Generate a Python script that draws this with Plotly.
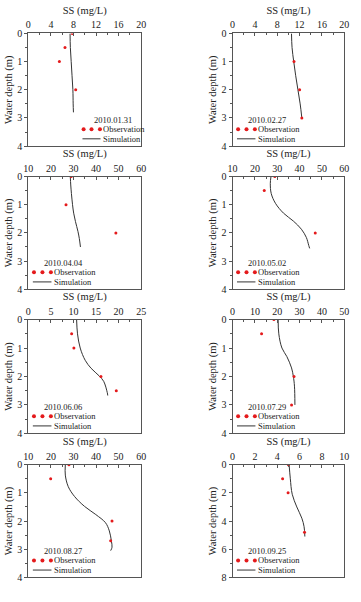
import plotly.graph_objects as go

# ---------------- data ----------------
dates = ["2010.01.31", "2010.02.27", "2010.04.04", "2010.05.02",
         "2010.06.06", "2010.07.29", "2010.08.27", "2010.09.25"]

x_ranges = [[0, 20], [0, 20], [10, 60], [10, 60], [0, 25], [0, 50], [10, 60], [0, 10]]
x_dticks = [4, 4, 10, 10, 5, 10, 10, 2]
y_ranges = [[0, 4], [0, 4], [0, 4], [0, 4], [0, 4], [0, 4], [0, 4], [0, 8]]
y_dticks = [1, 1, 1, 1, 1, 1, 1, 2]

obs_x = [
    [7.8, 6.5, 5.5, 8.4],
    [11.0, 12.0, 12.4],
    [29.0, 26.7, 48.8],
    [28.9, 24.2, 47.0],
    [9.6, 10.1, 16.1, 19.5],
    [18.5, 13.0, 27.5, 26.4],
    [28.0, 19.9, 47.1, 46.5],
    [5.0, 4.48, 4.97, 6.44],
]
obs_y = [
    [0, 0.5, 1, 2],
    [1, 2, 3],
    [0, 1, 2],
    [0, 0.5, 2],
    [0.5, 1, 2, 2.5],
    [0, 0.5, 2, 3],
    [0, 0.5, 2, 2.7],
    [0, 1, 2, 4.8],
]

sim_x = [
    [7.4, 7.45, 7.6, 7.75, 7.9, 7.95, 8.0],
    [10.55, 10.65, 10.95, 11.3, 11.7, 12.1, 12.4],
    [28.6, 28.8, 29.1, 29.6, 30.1, 30.9, 32.0, 32.6, 33.1],
    [27.2, 26.9, 27.3, 29.2, 32.8, 37.2, 40.8, 43.0, 44.1, 44.5],
    [10.7, 10.9, 11.5, 12.6, 13.9, 15.7, 16.7, 17.5, 17.6],
    [20.4, 20.7, 22.1, 24.3, 26.4, 27.2, 27.7, 27.9],
    [26.4, 26.4, 27.7, 30.5, 34.9, 39.9, 44.2, 45.9, 46.8, 47.1, 46.5],
    [5.06, 5.17, 5.34, 5.75, 6.2, 6.4, 6.47],
]
sim_y = [
    [0, 0.5, 1.0, 1.5, 2.0, 2.5, 2.8],
    [0, 0.5, 1, 1.5, 2, 2.5, 3],
    [0, 0.3, 0.6, 1.0, 1.3, 1.6, 1.95, 2.2, 2.5],
    [0, 0.25, 0.6, 0.95, 1.3, 1.58, 1.87, 2.16, 2.45, 2.55],
    [0, 0.5, 1.0, 1.43, 1.71, 1.98, 2.17, 2.57, 2.67],
    [0, 0.5, 1.0, 1.3, 1.7, 2.0, 2.34, 3.0],
    [0, 0.37, 0.78, 1.13, 1.48, 1.77, 2.06, 2.35, 2.7, 2.93, 3.05],
    [0, 1, 2.1, 3.0, 3.8, 4.4, 5.1],
]

x_title = "SS (mg/L)"
y_title = "Water depth (m)"
obs_label = "Observation"
sim_label = "Simulation"

# ---------------- layout ----------------
W, H = 361, 602
col_px = [(24, 140), (234, 349)]
row_px = [(28, 143), (174, 289), (320, 436), (468, 583)]

FONT = "Liberation Serif, Times New Roman, serif"
AX_COLOR = "#555555"
TXT = "#222222"

fig = go.Figure()
layout = dict(
    width=W, height=H,
    margin=dict(l=0, r=0, t=0, b=0),
    paper_bgcolor="white", plot_bgcolor="white",
    showlegend=False,
    font=dict(family=FONT, size=10, color=TXT),
)
shapes = []
annotations = []

for i in range(8):
    r, c = divmod(i, 2)
    n = "" if i == 0 else str(i + 1)
    xa, ya = "x" + n, "y" + n
    x0p, x1p = col_px[c]
    y0p, y1p = row_px[r]

    fig.add_trace(go.Scatter(
        x=sim_x[i], y=sim_y[i], mode="lines", line_shape="spline",
        line=dict(color="#333333", width=1), xaxis=xa, yaxis=ya,
    ))
    fig.add_trace(go.Scatter(
        x=obs_x[i], y=obs_y[i], mode="markers",
        marker=dict(color="#e41a1c", size=3), xaxis=xa, yaxis=ya,
    ))

    layout["xaxis" + n] = dict(
        domain=[x0p / W, x1p / W], anchor=ya, side="top",
        range=x_ranges[i], dtick=x_dticks[i], tick0=0,
        showgrid=False, zeroline=False,
        showline=True, linecolor=AX_COLOR, linewidth=1, mirror=True,
        ticks="inside", ticklen=3, tickcolor=AX_COLOR,
        minor=dict(dtick=x_dticks[i] / 2, ticks="inside", ticklen=2, tickcolor=AX_COLOR),
        tickfont=dict(family=FONT, size=10, color=TXT),
        title=dict(text=x_title, font=dict(family=FONT, size=10.5, color=TXT), standoff=2),
        fixedrange=True,
    )
    layout["yaxis" + n] = dict(
        domain=[1 - y1p / H, 1 - y0p / H], anchor=xa,
        range=[y_ranges[i][1], y_ranges[i][0]], dtick=y_dticks[i], tick0=0,
        showgrid=False, zeroline=False,
        showline=True, linecolor=AX_COLOR, linewidth=1, mirror=True,
        ticks="outside", ticklen=3, tickcolor=AX_COLOR,
        minor=dict(dtick=y_dticks[i] / 2, ticks="outside", ticklen=2, tickcolor=AX_COLOR),
        tickfont=dict(family=FONT, size=10, color=TXT),
        title=dict(text=y_title, font=dict(family=FONT, size=10.5, color=TXT), standoff=2),
        fixedrange=True,
    )

    # in-plot legend (Origin style)
    xr, yr = xa + " domain", ya + " domain"
    if i == 0:
        dots_x = [0.49, 0.56, 0.635]
        date_x, text_x, line_x = 0.575, 0.65, (0.48, 0.64)
    else:
        dots_x = [0.05, 0.125, 0.20]
        date_x, text_x, line_x = 0.13, 0.215, (0.04, 0.205)
    annotations.append(dict(
        text=dates[i], xref=xr, yref=yr, x=date_x, y=0.235,
        xanchor="left", yanchor="middle", showarrow=False, borderpad=0,
        font=dict(family=FONT, size=8.5, color=TXT),
    ))
    for dx in dots_x:
        shapes.append(dict(
            type="circle", xref=xr, yref=yr, xsizemode="pixel", ysizemode="pixel",
            xanchor=dx, yanchor=0.15, x0=-2, x1=2, y0=-2, y1=2,
            fillcolor="#e41a1c", line=dict(width=0),
        ))
    annotations.append(dict(
        text=obs_label, xref=xr, yref=yr, x=text_x, y=0.15,
        xanchor="left", yanchor="middle", showarrow=False, borderpad=0,
        font=dict(family=FONT, size=8.5, color=TXT),
    ))
    shapes.append(dict(
        type="line", xref=xr, yref=yr, x0=line_x[0], x1=line_x[1], y0=0.065, y1=0.065,
        line=dict(color="#333333", width=1),
    ))
    annotations.append(dict(
        text=sim_label, xref=xr, yref=yr, x=text_x, y=0.065,
        xanchor="left", yanchor="middle", showarrow=False, borderpad=0,
        font=dict(family=FONT, size=8.5, color=TXT),
    ))

layout["shapes"] = shapes
layout["annotations"] = annotations
fig.update_layout(**layout)
fig.write_html("out.html")
